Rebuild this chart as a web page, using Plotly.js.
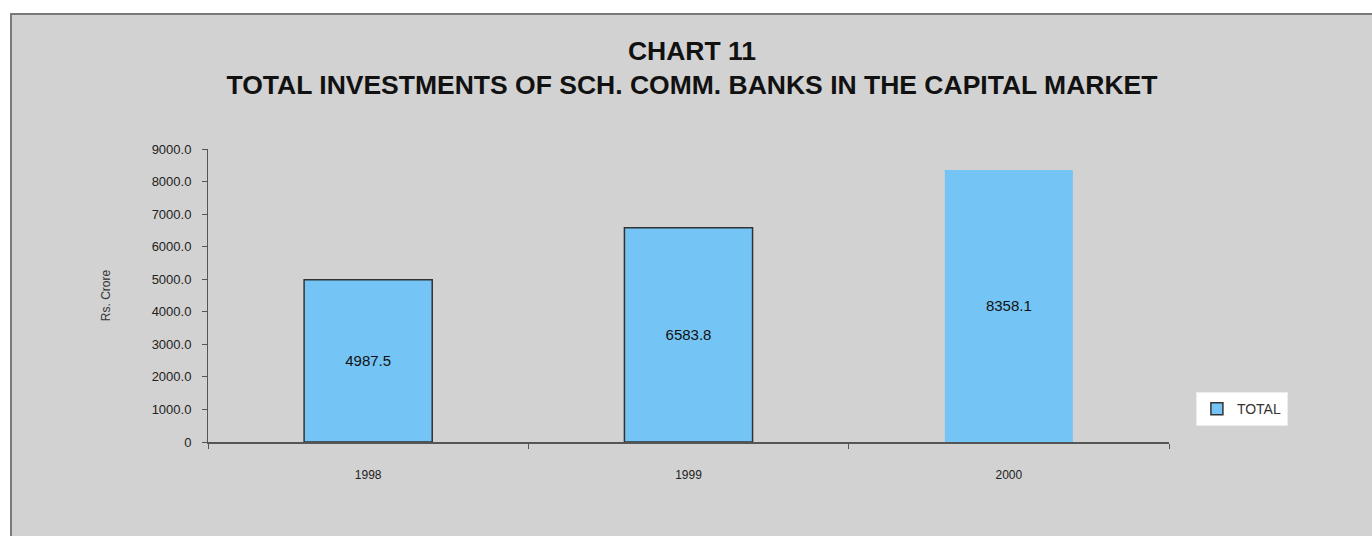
<!DOCTYPE html>
<html>
<head>
<meta charset="utf-8">
<script src="https://cdn.plot.ly/plotly-3.0.1.min.js"></script>
<style>
  html, body { margin: 0; padding: 0; background: #ffffff; }
  #frame { position: absolute; left: 10px; top: 13px; width: 1362px; height: 523px;
           border-left: 2px solid #7a7a7a; border-top: 2px solid #7a7a7a; box-sizing: border-box; }
  #chart { width: 1360px; height: 521px; }
</style>
</head>
<body>
<div id="frame"><div id="chart"></div></div>
<script>
var years = ['1998', '1999', '2000'];
var totalValues = [4987.5, 6583.8, 8358.1];
var barLabels = ['4987.5', '6583.8', '8358.1'];
var yTickVals = [0, 1000, 2000, 3000, 4000, 5000, 6000, 7000, 8000, 9000];
var yTickText = ['0', '1000.0', '2000.0', '3000.0', '4000.0', '5000.0', '6000.0', '7000.0', '8000.0', '9000.0'];

var fam = 'Liberation Sans, Arial, sans-serif';

var trace = {
  type: 'bar',
  name: 'TOTAL',
  x: years,
  y: totalValues,
  text: barLabels,
  textposition: 'inside',
  insidetextanchor: 'middle',
  textfont: { family: fam, size: 15, color: '#111111' },
  marker: { color: '#74c5f6', line: { color: '#333333', width: [1.5, 1.5, 0] } },
  hoverinfo: 'skip'
};

var layout = {
  width: 1360,
  height: 521,
  paper_bgcolor: '#d2d2d2',
  plot_bgcolor: '#d2d2d2',
  margin: { l: 196, r: 203, t: 134, b: 94 },
  font: { family: fam, color: '#111111' },
  title: {
    text: '<b>CHART 11</b><br><b>TOTAL INVESTMENTS OF SCH. COMM. BANKS IN THE CAPITAL MARKET</b>',
    font: { family: fam, size: 26.5, color: '#111111' },
    x: 0.5, xanchor: 'center',
    y: 1 - 45 / 521, yanchor: 'top', yref: 'container'
  },
  bargap: 0.6,
  showlegend: true,
  legend: {
    x: 1.028, xanchor: 'left', y: 0.17, yanchor: 'top',
    bgcolor: '#ffffff', bordercolor: '#ececec', borderwidth: 1,
    font: { family: fam, size: 14, color: '#333333' },
    itemwidth: 30
  },
  xaxis: {
    type: 'category',
    showline: true, linecolor: '#555555', linewidth: 1.5,
    showgrid: false, zeroline: false,
    ticks: 'outside', tickson: 'boundaries', ticklen: 5, tickcolor: '#555555',
    tickfont: { family: fam, size: 12, color: '#222222' },
    ticklabelstandoff: 21
  },
  yaxis: {
    range: [0, 9000],
    tickvals: yTickVals, ticktext: yTickText,
    showline: true, linecolor: '#555555', linewidth: 1,
    showgrid: false, zeroline: false,
    ticks: 'outside', ticklen: 5, tickcolor: '#555555',
    tickfont: { family: fam, size: 13, color: '#222222' },
    ticklabelstandoff: 8,
    title: { text: 'Rs. Crore', font: { family: fam, size: 12, color: '#333333' }, standoff: 38 }
  }
};

Plotly.newPlot('chart', [trace], layout, { displayModeBar: false, staticPlot: true });
</script>
</body>
</html>
